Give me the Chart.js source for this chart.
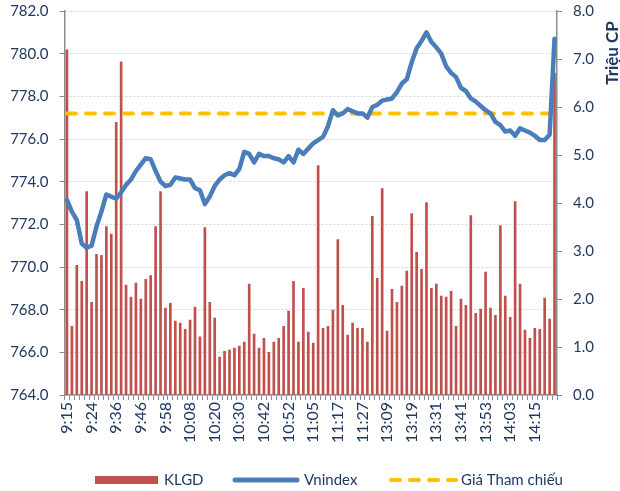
<!DOCTYPE html>
<html>
<head>
<meta charset="utf-8">
<script src="https://cdn.jsdelivr.net/npm/chart.js@4.4.1/dist/chart.umd.min.js"></script>
<style>
    html, body { margin: 0; padding: 0; background: #fff; }
</style>
</head>
<body>
<canvas id="chart_canvas" width="620" height="491"></canvas>
<script>
// tick labels on the time axis (one every 5 categories)
var tickLabels = ['9:15', '9:24', '9:36', '9:46', '9:58', '10:08', '10:20', '10:30', '10:42', '10:52',
    '11:05', '11:17', '11:27', '13:09', '13:19', '13:31', '13:41', '13:53', '14:03', '14:15'];

// KLGD, trieu CP (right axis)
var klgd = [7.19, 1.43, 2.70, 2.37, 4.24, 1.93, 2.93, 2.91, 3.51, 3.35,
    5.68, 6.94, 2.29, 2.04, 2.33, 2.00, 2.41, 2.49, 3.51, 4.24,
    1.81, 1.91, 1.54, 1.50, 1.37, 1.56, 1.83, 1.21, 3.49, 1.93,
    1.60, 0.79, 0.91, 0.94, 0.98, 1.02, 1.10, 2.31, 1.27, 0.98,
    1.18, 0.89, 1.10, 1.18, 1.43, 1.75, 2.37, 1.10, 2.22, 1.31,
    1.08, 4.78, 1.39, 1.43, 1.77, 3.24, 1.87, 1.25, 1.50, 1.39,
    1.39, 1.10, 3.72, 2.43, 4.30, 1.33, 2.20, 1.93, 2.27, 2.58,
    3.78, 2.97, 2.62, 4.01, 2.22, 2.31, 2.06, 2.04, 2.16, 1.43,
    2.00, 1.87, 3.74, 1.70, 1.79, 2.56, 1.81, 1.66, 3.53, 2.06,
    1.62, 4.03, 2.31, 1.35, 1.18, 1.39, 1.37, 2.02, 1.58, 6.70];

// Vnindex (left axis)
var vnindex = [773.15, 772.6, 772.2, 771.1, 770.9, 771.0, 771.9, 772.6, 773.4, 773.3,
    773.2, 773.5, 773.85, 774.1, 774.5, 774.8, 775.1, 775.05, 774.5, 774.0,
    773.8, 773.85, 774.2, 774.15, 774.1, 774.1, 773.7, 773.6, 772.95, 773.3,
    773.8, 774.1, 774.3, 774.4, 774.3, 774.6, 775.4, 775.3, 774.9, 775.3,
    775.2, 775.2, 775.1, 775.05, 774.9, 775.2, 774.9, 775.5, 775.3, 775.55,
    775.8, 775.95, 776.1, 776.6, 777.35, 777.1, 777.2, 777.4, 777.3, 777.2,
    777.2, 777.0, 777.5, 777.6, 777.8, 777.85, 777.9, 778.2, 778.6, 778.8,
    779.6, 780.25, 780.6, 781.0, 780.55, 780.3, 780.0, 779.4, 779.1, 778.9,
    778.4, 778.25, 777.9, 777.75, 777.55, 777.35, 777.2, 776.8, 776.65, 776.35,
    776.4, 776.15, 776.5, 776.4, 776.3, 776.15, 775.95, 775.95, 776.2, 780.7];

var giaThamChieu = 777.2;

var labels = klgd.map(function (v, i) { return i % 5 === 0 ? tickLabels[i / 5] : ''; });

var textColor = '#1f3864';
var axisColor = '#8c8c8c';

// right axis title + legend, drawn like the excel original
var extras = {
    id: 'extras',
    afterDraw: function (chart) {
        var ctx = chart.ctx;
        ctx.save();
        ctx.translate(613, 53);
        ctx.rotate(-Math.PI / 2);
        ctx.font = 'bold 17px Lato';
        ctx.fillStyle = textColor;
        ctx.textAlign = 'center';
        ctx.textBaseline = 'middle';
        ctx.fillText('Triệu CP', 0, 0);
        ctx.restore();

        var ds = chart.data.datasets;
        var y = 480;
        ctx.save();
        ctx.font = '15px Lato';
        ctx.fillStyle = textColor;
        ctx.textBaseline = 'middle';

        ctx.fillStyle = ds[0].backgroundColor;
        ctx.fillRect(95, y - 4, 63, 8);
        ctx.fillStyle = textColor;
        ctx.fillText(ds[0].label, 164, y);

        ctx.lineCap = 'round';
        ctx.strokeStyle = ds[1].borderColor;
        ctx.lineWidth = 5;
        ctx.beginPath(); ctx.moveTo(235, y); ctx.lineTo(297, y); ctx.stroke();
        ctx.fillText(ds[1].label, 304, y);

        ctx.strokeStyle = ds[2].borderColor;
        ctx.lineWidth = 4;
        ctx.setLineDash(ds[2].borderDash);
        ctx.beginPath(); ctx.moveTo(391, y); ctx.lineTo(456, y); ctx.stroke();
        ctx.setLineDash([]);
        ctx.fillText(ds[2].label, 461, y);
        ctx.restore();
    }
};

// keep the plot area where the original has it
function fixVertical(width) {
    return function (s) {
        s.width = width;
        s.paddingTop = 0;
        s.paddingBottom = 0;
    };
}

var ctx = document.getElementById('chart_canvas').getContext('2d');

var chart = new Chart(ctx, {
    type: 'bar',
    data: {
        labels: labels,
        datasets: [
            {
                label: 'KLGD',
                data: klgd,
                yAxisID: 'y1',
                backgroundColor: '#c0504d',
                barThickness: 2,
                order: 3
            },
            {
                type: 'line',
                label: 'Vnindex',
                data: vnindex,
                yAxisID: 'y',
                borderColor: '#4a7ebb',
                borderWidth: 4.5,
                borderJoinStyle: 'round',
                borderCapStyle: 'round',
                pointRadius: 0,
                tension: 0,
                order: 1
            },
            {
                type: 'line',
                label: 'Giá Tham chiếu',
                data: labels.map(function () { return giaThamChieu; }),
                yAxisID: 'y',
                borderColor: '#ffc000',
                borderWidth: 4,
                borderDash: [9, 10],
                borderCapStyle: 'round',
                pointRadius: 0,
                order: 2
            }
        ]
    },
    options: {
        responsive: false,
        animation: false,
        layout: { padding: { top: 11 } },
        plugins: {
            legend: { display: false },
            tooltip: { enabled: false }
        },
        scales: {
            x: {
                offset: true,
                grid: { drawOnChartArea: false, offset: true, tickLength: 5, tickColor: axisColor },
                border: { color: axisColor, width: 1.5 },
                ticks: {
                    autoSkip: false, maxRotation: 90, minRotation: 90, padding: 2,
                    color: textColor, font: { family: 'Lato', size: 16 }
                },
                afterFit: function (s) { s.height = 96; }
            },
            y: {
                position: 'left',
                min: 764,
                max: 782,
                ticks: {
                    stepSize: 2, padding: 11,
                    color: textColor, font: { family: 'Lato', size: 15 },
                    callback: function (v) { return v.toFixed(1); }
                },
                grid: { color: '#d4d4d4', tickColor: axisColor, tickLength: 5 },
                border: { color: axisColor, width: 1.5, dash: [2, 2] },
                afterFit: fixVertical(64.5)
            },
            y1: {
                position: 'right',
                min: 0,
                max: 8,
                ticks: {
                    stepSize: 1, padding: 11,
                    color: textColor, font: { family: 'Lato', size: 15 },
                    callback: function (v) { return v.toFixed(1); }
                },
                grid: { drawOnChartArea: false, tickColor: axisColor, tickLength: 5 },
                border: { color: axisColor, width: 1.5 },
                afterFit: fixVertical(63)
            }
        }
    },
    plugins: [extras]
});
</script>
</body>
</html>
